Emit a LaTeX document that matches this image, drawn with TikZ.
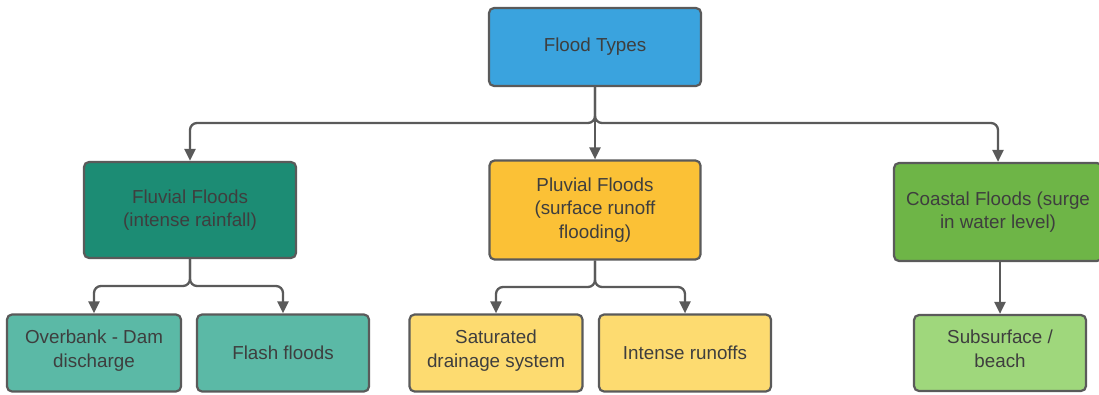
\documentclass[tikz,border=0pt]{standalone}
\usepackage{fontspec}
\setmainfont{Liberation Sans}
\usetikzlibrary{arrows.meta}
\definecolor{ftblue}{HTML}{3AA3DE}
\definecolor{fluvdark}{HTML}{1C8C74}
\definecolor{fluvlight}{HTML}{5BB9A6}
\definecolor{pluvdark}{HTML}{FBC136}
\definecolor{pluvlight}{HTML}{FDDB70}
\definecolor{coastdark}{HTML}{6EB547}
\definecolor{coastlight}{HTML}{9FD77C}
\definecolor{edgegray}{HTML}{5A5A5A}
\definecolor{txtgray}{HTML}{3E3E3E}
\tikzset{
  box/.style={draw=edgegray, line width=2.2pt, rounded corners=5pt,
    align=center, text=txtgray, font=\fontsize{18.8}{23.5}\selectfont,
    inner sep=0pt, anchor=center},
  twoline/.style={text depth=9pt},
  conn/.style={draw=edgegray, line width=2.3pt, rounded corners=7pt,
    -{Triangle[length=12pt,width=11pt]}}
}
\begin{document}
\begin{tikzpicture}[x=1pt,y=-1pt]
\useasboundingbox (0,0) rectangle (1099,394);
% top level
\node[box, fill=ftblue, minimum width=212pt, minimum height=78pt] (ft) at (595,47) {Flood Types};
% flood classes
\node[box, fill=fluvdark, minimum width=212pt, minimum height=96pt] (flu) at (190,210) {Fluvial Floods\\(intense rainfall)};
\node[box, fill=pluvdark, minimum width=211pt, minimum height=99pt] (plu) at (595,210) {Pluvial Floods\\(surface runoff\\flooding)};
\node[box, fill=coastdark, minimum width=208pt, minimum height=98pt] (coa) at (998,212) {Coastal Floods (surge\\in water level)};
% sub types
\node[box, twoline, fill=fluvlight, minimum width=174pt, minimum height=77pt] (ovb) at (94,353) {Overbank - Dam\\discharge};
\node[box, fill=fluvlight, minimum width=172pt, minimum height=77pt] (fls) at (283,353) {Flash floods};
\node[box, twoline, fill=pluvlight, minimum width=173pt, minimum height=77pt] (sat) at (496,353) {Saturated\\drainage system};
\node[box, fill=pluvlight, minimum width=172pt, minimum height=77pt] (irn) at (685,353) {Intense runoffs};
\node[box, twoline, fill=coastlight, minimum width=172pt, minimum height=76pt] (sub) at (1000,353) {Subsurface /\\beach};
% junction rails
\coordinate (j0) at (595,123);
\coordinate (j1) at (190,286);
\coordinate (j2) at (595,287);
% connectors
\draw[conn] (ft.south) -- (j0) -| (flu.north);
\draw[conn] (ft.south) -- (j0) -| (coa.north);
\draw[conn] (ft.south) -- (plu.north);
\draw[conn] (flu.south) -- (j1) -| (ovb.north);
\draw[conn] (flu.south) -- (j1) -| (fls.north);
\draw[conn] (plu.south) -- (j2) -| (sat.north);
\draw[conn] (plu.south) -- (j2) -| (irn.north);
\draw[conn] (coa.south -| sub.north) -- (sub.north);
\end{tikzpicture}
\end{document}
